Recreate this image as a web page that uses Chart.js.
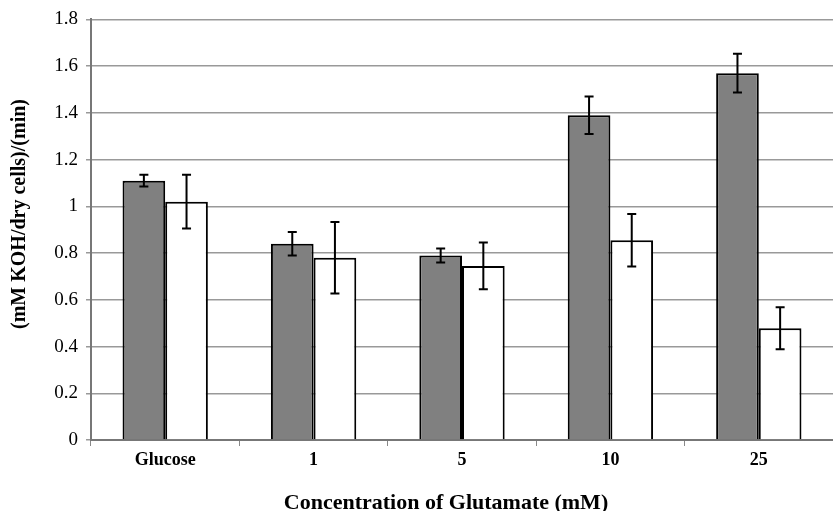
<!DOCTYPE html>
<html>
<head>
<meta charset="utf-8">
<script src="https://cdn.jsdelivr.net/npm/chart.js@4"></script>
<style>
html,body{margin:0;padding:0;background:#fff;}
#wrap{width:833px;height:511px;position:relative;}
</style>
</head>
<body>
<div id="wrap"><canvas id="c" width="833" height="511"></canvas></div>
<script>
const categories = ["Glucose", "1", "5", "10", "25"];
const grayValues = [1.11, 0.84, 0.79, 1.39, 1.57];
const grayErrors = [0.025, 0.05, 0.03, 0.08, 0.083];
const whiteValues = [1.02, 0.78, 0.745, 0.855, 0.478];
const whiteErrors = [0.115, 0.153, 0.1, 0.112, 0.09];
const yTicks = [0, 0.2, 0.4, 0.6, 0.8, 1, 1.2, 1.4, 1.6, 1.8];
const yTitle = "(mM KOH/dry cells)/(min)";
const xTitle = "Concentration of Glutamate (mM)";

const errorBarPlugin = {
  id: 'errorBars',
  afterDatasetsDraw(chart) {
    const ctx = chart.ctx;
    const ys = chart.scales.y;
    ctx.save();
    ctx.strokeStyle = '#000';
    ctx.lineWidth = 2;
    chart.data.datasets.forEach((ds, di) => {
      const meta = chart.getDatasetMeta(di);
      meta.data.forEach((bar, i) => {
        const v = ds.data[i], e = ds.errors[i];
        const x = bar.x;
        const yt = ys.getPixelForValue(v + e);
        const yb = ys.getPixelForValue(v - e);
        ctx.beginPath();
        ctx.moveTo(x, yt); ctx.lineTo(x, yb);
        ctx.moveTo(x - 4.5, yt); ctx.lineTo(x + 4.5, yt);
        ctx.moveTo(x - 4.5, yb); ctx.lineTo(x + 4.5, yb);
        ctx.stroke();
      });
    });
    ctx.restore();
  }
};

const titlesPlugin = {
  id: 'axisTitles',
  afterDraw(chart) {
    const ctx = chart.ctx;
    ctx.save();
    ctx.fillStyle = '#000';
    ctx.textAlign = 'center';
    ctx.font = 'bold 22px "Liberation Serif"';
    ctx.textBaseline = 'alphabetic';
    ctx.fillText(xTitle, 446, 509);
    ctx.translate(20, 214);
    ctx.rotate(-Math.PI / 2);
    ctx.font = 'bold 20px "Liberation Serif"';
    ctx.textBaseline = 'middle';
    ctx.fillText(yTitle, 0, 0);
    ctx.restore();
  }
};

new Chart(document.getElementById('c'), {
  type: 'bar',
  data: {
    labels: categories,
    datasets: [
      { data: grayValues, errors: grayErrors, backgroundColor: '#808080', borderColor: '#000', borderWidth: 2, categoryPercentage: 0.575, barPercentage: 1.0 },
      { data: whiteValues, errors: whiteErrors, backgroundColor: '#ffffff', borderColor: '#000', borderWidth: 2, categoryPercentage: 0.575, barPercentage: 1.0 }
    ]
  },
  options: {
    responsive: false,
    animation: false,
    layout: { padding: { top: 18, right: 0, left: 0, bottom: 0 } },
    plugins: { legend: { display: false }, tooltip: { enabled: false } },
    scales: {
      x: {
        grid: { display: true, drawOnChartArea: false, offset: true, color: '#888', tickLength: 6, tickWidth: 1 },
        border: { color: '#777', width: 2 },
        ticks: { color: '#000', font: { family: 'Liberation Serif', size: 18, weight: 'bold' }, padding: 4 },
        title: { display: false },
        afterFit(s) { s.height = 71; }
      },
      y: {
        min: 0, max: 1.8,
        afterBuildTicks(s) { s.ticks = yTicks.map(v => ({ value: v })); },
        grid: { color: '#999', lineWidth: 1.5, tickLength: 5, drawTicks: true },
        border: { color: '#777', width: 2 },
        ticks: { color: '#000', font: { family: 'Liberation Serif', size: 19 }, padding: 8, callback: v => String(v) },
        title: { display: false },
        afterFit(s) { s.width = 91; }
      }
    }
  },
  plugins: [errorBarPlugin, titlesPlugin]
});
</script>
</body>
</html>
